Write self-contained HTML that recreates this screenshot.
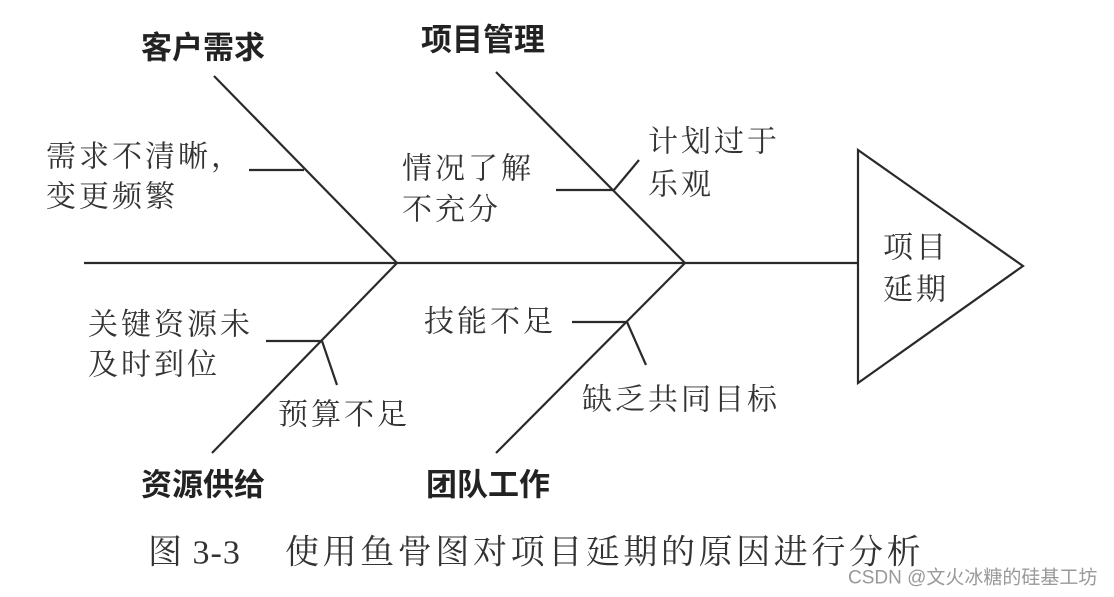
<!DOCTYPE html>
<html><head><meta charset="utf-8"><style>
html,body{margin:0;padding:0;background:#fff;}
svg{display:block}
.h{font-family:"Liberation Sans","Noto Sans CJK SC",sans-serif;font-weight:bold;font-size:31px;fill:#222}
.t{font-family:"Liberation Serif","Noto Serif CJK SC",serif;font-size:30px;fill:#333;letter-spacing:3px}
</style></head><body>
<svg width="1114" height="597" viewBox="0 0 1114 597" xmlns="http://www.w3.org/2000/svg">
<g stroke="#2a2a2a" stroke-width="2.2" fill="none">
<line x1="84" y1="263" x2="858" y2="263"/>
<polygon points="858,150 1023,266 858,383" fill="#fff"/>
<line x1="214" y1="76" x2="397" y2="263"/>
<line x1="212" y1="453" x2="397" y2="263"/>
<line x1="496" y1="72" x2="685" y2="263"/>
<line x1="496" y1="453" x2="685" y2="263"/>
<line x1="249" y1="170" x2="304" y2="170"/>
<line x1="556" y1="190" x2="614" y2="190"/>
<line x1="614" y1="190" x2="639" y2="160"/>
<line x1="266" y1="341" x2="322" y2="341"/>
<line x1="322" y1="341" x2="337" y2="385"/>
<line x1="572" y1="322" x2="627" y2="322"/>
<line x1="627" y1="322" x2="646" y2="365"/>
</g>
<g dominant-baseline="central">
<text class="h" x="141" y="48">客户需求</text>
<text class="h" x="421" y="40">项目管理</text>
<text class="h" x="141" y="485">资源供给</text>
<text class="h" x="426" y="485">团队工作</text>
<text class="t" x="46" y="157">需求不清晰，</text>
<text class="t" x="46" y="197">变更频繁</text>
<text class="t" x="402" y="169">情况了解</text>
<text class="t" x="402" y="210">不充分</text>
<text class="t" x="648" y="142">计划过于</text>
<text class="t" x="648" y="185">乐观</text>
<text class="t" x="883" y="248">项目</text>
<text class="t" x="883" y="290">延期</text>
<text class="t" x="424" y="322">技能不足</text>
<text class="t" x="582" y="400">缺乏共同目标</text>
<text class="t" x="88" y="325">关键资源未</text>
<text class="t" x="88" y="365">及时到位</text>
<text class="t" x="278" y="415">预算不足</text>
<text class="t" x="148" y="553" style="font-size:34px;letter-spacing:1px">图 3-3</text>
<text class="t" x="285" y="553" style="font-size:34px;letter-spacing:3.6px">使用鱼骨图对项目延期的原因进行分析</text>
<text x="848" y="578" style="font-family:'Liberation Sans','Noto Sans CJK SC',sans-serif;font-size:19px;fill:#999">CSDN @文火冰糖的硅基工坊</text>
</g>
</svg>
</body></html>
